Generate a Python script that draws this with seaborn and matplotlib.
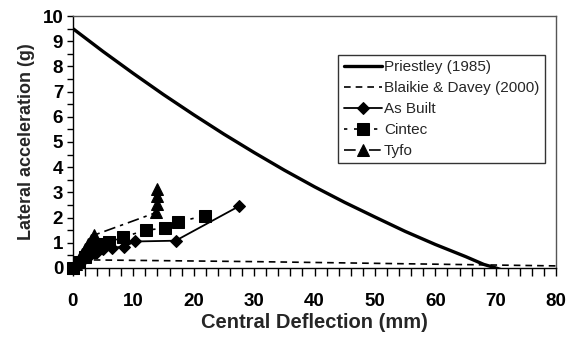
import numpy as np
import pandas as pd
import matplotlib
matplotlib.use("Agg")
import matplotlib.pyplot as plt
from matplotlib.ticker import MultipleLocator
import seaborn as sns

# values
priestley_x = [0, 5, 10, 15, 20, 25, 30, 35, 40, 45, 50, 55, 60, 65, 68, 70, 71.5]
priestley_y = [9.5, 8.59, 7.72, 6.88, 6.08, 5.31, 4.58, 3.88, 3.22, 2.6, 2.02, 1.45, 0.93, 0.45, 0.14, 0.0, -0.12]

blaikie_x = [0, 2, 30, 80]
blaikie_y = [0, 0.32, 0.25, 0.08]

asbuilt_x = [0, 0.5, 1, 1.5, 2, 3, 4, 5, 6.5, 8.5, 10.3, 17, 27.5]
asbuilt_y = [0, 0.1, 0.2, 0.3, 0.4, 0.55, 0.65, 0.75, 0.8, 0.85, 1.05, 1.08, 2.45]

cintec_x = [0, 1, 2, 3, 4, 5, 5.9, 8.3, 12.1, 15.3, 17.4, 21.9]
cintec_y = [0, 0.25, 0.45, 0.65, 0.8, 0.95, 1.02, 1.22, 1.5, 1.58, 1.82, 2.08]

tyfo_x = [0, 0.5, 1, 1.5, 2, 2.5, 3, 3.5, 13.8, 14, 14, 14]
tyfo_y = [0, 0.15, 0.35, 0.55, 0.75, 0.95, 1.1, 1.3, 2.2, 2.55, 2.85, 3.15]

sns.set_style("white")
plt.rcParams['font.family'] = ['Liberation Sans', 'DejaVu Sans']

fig, ax = plt.subplots(figsize=(5.74, 3.37), dpi=100)
fig.subplots_adjust(left=0.127, right=0.969, top=0.9525, bottom=0.205)

sns.lineplot(x=priestley_x, y=priestley_y, color='black', lw=2.4, sort=False,
             estimator=None, label='Priestley (1985)', ax=ax)
sns.lineplot(x=blaikie_x, y=blaikie_y, color='black', lw=1.2, sort=False,
             estimator=None, label='Blaikie & Davey (2000)', ax=ax)
ax.lines[-1].set_dashes((4, 3))
sns.lineplot(x=asbuilt_x, y=asbuilt_y, color='black', lw=1.3, sort=False,
             estimator=None, marker='D', markersize=6, markeredgecolor='black',
             clip_on=False, label='As Built', ax=ax)
sns.lineplot(x=cintec_x, y=cintec_y, color='black', lw=1.2, sort=False,
             estimator=None, marker='s', markersize=8, markeredgecolor='black',
             clip_on=False, label='Cintec', ax=ax)
ax.lines[-1].set_dashes((2, 4))
sns.lineplot(x=tyfo_x, y=tyfo_y, color='black', lw=1.2, sort=False,
             estimator=None, marker='^', markersize=8, markeredgecolor='black',
             clip_on=False, label='Tyfo', ax=ax)
ax.lines[-1].set_dashes((7, 3, 2, 3))

ax.set_xlim(0, 80)
ax.set_ylim(0, 10)
ax.xaxis.set_major_locator(MultipleLocator(10))
ax.xaxis.set_minor_locator(MultipleLocator(2))
ax.yaxis.set_major_locator(MultipleLocator(1))
ax.yaxis.set_minor_locator(MultipleLocator(0.5))
ax.tick_params(which='both', direction='out', width=1, colors='black',
               bottom=True, left=True)
ax.tick_params(axis='x', which='both', length=6)
ax.tick_params(axis='y', which='both', length=4)
ax.tick_params(axis='x', labelsize=13.5, pad=12)
ax.tick_params(axis='y', labelsize=13.5, pad=3)
for lab in ax.get_xticklabels() + ax.get_yticklabels():
    lab.set_fontweight('bold')

for s in ax.spines.values():
    s.set_color('black')
    s.set_linewidth(1)
ax.spines['top'].set_color('#555555')
ax.spines['right'].set_color('#555555')

ax.set_xlabel('Central Deflection (mm)', fontsize=14.5, fontweight='bold', labelpad=2)
ax.set_ylabel('Lateral acceleration (g)', fontsize=13, fontweight='bold', labelpad=5)

leg = ax.legend(loc='upper left', bbox_to_anchor=(0.549, 0.845), fontsize=11,
                frameon=True, fancybox=False, handlelength=2.5, handletextpad=0.15,
                borderaxespad=0, borderpad=0.35, labelspacing=0.45)
leg.get_frame().set_edgecolor('black')
leg.get_frame().set_linewidth(1)

fig.savefig('out.png', dpi=100)
